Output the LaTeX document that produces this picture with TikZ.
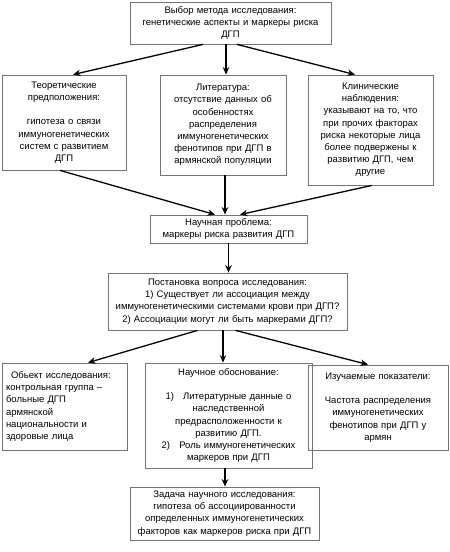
\documentclass[tikz,border=0pt]{standalone}
\usepackage{fontspec}
\setmainfont{Liberation Sans}
\usetikzlibrary{arrows.meta}
\begin{document}
\begin{tikzpicture}[x=1pt,y=-1pt,
  box/.style={draw=black!55, line width=0.8pt, rectangle, inner sep=1pt,
    font=\fontsize{9.5}{12.2}\selectfont, align=center},
  arr/.style={line width=1.3pt, -{Stealth[length=7.5pt,width=6.5pt]}}]
\useasboundingbox (0,0) rectangle (450,552);
\node[box, minimum width=201pt, minimum height=42pt, text width=199pt] (top) at (230.5,23)
  {Выбор метода исследования:\\ генетические аспекты и маркеры риска\\ ДГП};
\node[box, minimum width=124pt, minimum height=95pt, text width=122pt] (theo) at (64,122.5)
  {Теоретические\\ предположения:\\[12.2pt] гипотеза о связи\\ иммуногенетических\\ систем с развитием\\ ДГП};
\node[box, minimum width=126pt, minimum height=100pt, text width=124pt] (lit) at (223,125)
  {Литература:\\ отсутствие данных об\\ особенностях\\ распределения\\ иммуногенетических\\ фенотипов при ДГП в\\ армянской популяции};
\node[box, minimum width=125pt, minimum height=110pt, text width=123pt] (clin) at (370.5,130)
  {Клинические\\ наблюдения:\\ указывают на то, что\\ при прочих факторах\\ риска некоторые лица\\ более подвержены к\\ развитию ДГП, чем\\ другие};
\node[box, minimum width=157pt, minimum height=28pt, text width=155pt] (prob) at (228.5,229)
  {Научная проблема:\\ маркеры риска развития ДГП};
\node[box, minimum width=239pt, minimum height=57pt, text width=237pt] (quest) at (227.5,301.5)
  {Постановка вопроса исследования:\\ 1) Существует ли ассоциация между\\ иммуногенетическими системами крови при ДГП?\\ 2) Ассоциации могут ли быть маркерами ДГП?};
\node[box, minimum width=125pt, minimum height=87pt, text width=117pt, align=left] (obj) at (64.5,406.5)
  {\hspace*{5pt}Обьект исследования:\\ контрольная группа –\\ больные ДГП\\ армянской\\ национальности и\\ здоровые лица};
\node[box, minimum width=167pt, minimum height=105pt, text width=165pt] (basis) at (228.5,415.5)
  {Научное обоснование:\\[12.2pt] 1)\hspace{6pt} Литературные данные о\\ наследственной\\ предрасположенности к\\ развитию ДГП.\\ 2)\hspace{6pt} Роль иммуногенетических\\ маркеров при ДГП};
\node[box, minimum width=140pt, minimum height=85pt, text width=138pt] (ind) at (378,407.5)
  {Изучаемые показатели:\\[12.2pt] Частота распределения\\ иммуногенетических\\ фенотипов при ДГП у\\ армян};
\node[box, minimum width=189pt, minimum height=53pt, text width=187pt] (task) at (224.5,513.5)
  {Задача научного исследования:\\ гипотеза об ассоциированности\\ определенных иммуногенетических\\ факторов как маркеров риска при ДГП};
% arrows
\draw[arr] ([xshift=-27.5pt]top.south) -- ([xshift=9pt]theo.north);
\draw[arr] ([xshift=-4.5pt]top.south) -- ([xshift=-4.5pt]top.south |- lit.north);
\draw[arr] ([xshift=6.5pt]top.south) -- ([xshift=-15.5pt]clin.north);
\draw[arr] ([xshift=-4pt]theo.south) -- ([xshift=-13.5pt]prob.north);
\draw[arr] ([xshift=2pt]lit.south) -- ([xshift=2pt]lit.south |- prob.north);
\draw[arr] ([xshift=1.5pt]clin.south) -- ([xshift=11.5pt]prob.north);
\draw[arr] (prob.south) -- (prob.south |- quest.north);
\draw[arr] ([xshift=-30pt]quest.south) -- ([xshift=23.5pt]obj.north);
\draw[arr] ([xshift=-4.5pt]quest.south) -- ([xshift=-4.5pt]quest.south |- basis.north);
\draw[arr] ([xshift=8pt]quest.south) -- ([xshift=-10pt]ind.north);
\draw[arr] ([xshift=-3.5pt]basis.south) -- ([xshift=-3.5pt]basis.south |- task.north);
\end{tikzpicture}
\end{document}
